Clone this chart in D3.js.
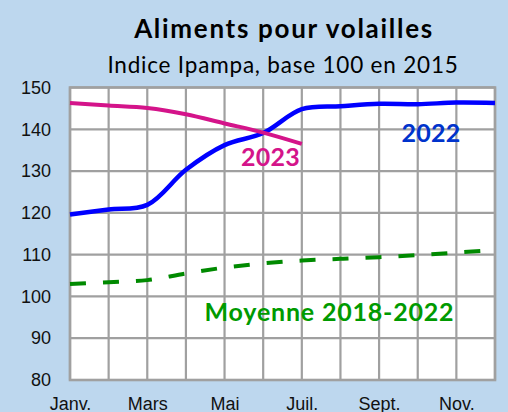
<!DOCTYPE html>
<html>
<head>
<meta charset="utf-8">
<script src="https://cdn.jsdelivr.net/npm/d3@7"></script>
<style>
  html, body { margin: 0; padding: 0; background: #BDD7EE; }
  svg { display: block; }
</style>
</head>
<body>
<div id="viz"></div>
<script>
// Data
const months = ["Janv.", "Févr.", "Mars", "Avr.", "Mai", "Juin", "Juil.", "Août", "Sept.", "Oct.", "Nov.", "Déc."]
const tickMonths = ["Janv.", "Mars", "Mai", "Juil.", "Sept.", "Nov."]
const yTicks = [80, 90, 100, 110, 120, 130, 140, 150]
const values2022 = [119.6, 120.8, 121.9, 130.3, 136.2, 139.1, 144.8, 145.5, 146.1, 146.0, 146.4, 146.3]
const values2023 = [146.3, 145.7, 145.1, 143.6, 141.4, 139.2, 136.5]
const valuesMoyenne = [103.0, 103.4, 103.9, 105.5, 106.9, 107.9, 108.6, 109.0, 109.4, 109.9, 110.5, 111.1]

const width = 508
const height = 412
const margin = { top: 87.5, right: 13, bottom: 32, left: 70 }

const svg = d3.select("#viz").append("svg")
    .attr("width", width)
    .attr("height", height)

svg.append("rect")
    .attr("width", width)
    .attr("height", height)
    .attr("fill", "#BDD7EE")

const x = d3.scalePoint()
    .domain(months)
    .range([margin.left, width - margin.right])

const y = d3.scaleLinear()
    .domain([80, 150])
    .range([height - margin.bottom, margin.top])

// plot area
svg.append("rect")
    .attr("x", margin.left)
    .attr("y", margin.top)
    .attr("width", width - margin.right - margin.left)
    .attr("height", height - margin.bottom - margin.top)
    .attr("fill", "#fff")

// grid
svg.append("g")
    .selectAll("line")
    .data(months)
    .enter().append("line")
    .attr("x1", d => x(d))
    .attr("x2", d => x(d))
    .attr("y1", margin.top)
    .attr("y2", height - margin.bottom)
    .attr("stroke", "#A0A0A0")
    .attr("stroke-width", 2.2)

svg.append("g")
    .selectAll("line")
    .data(yTicks)
    .enter().append("line")
    .attr("x1", margin.left)
    .attr("x2", width - margin.right)
    .attr("y1", d => y(d))
    .attr("y2", d => y(d))
    .attr("stroke", "#A0A0A0")
    .attr("stroke-width", 2.2)

svg.append("rect")
    .attr("x", margin.left)
    .attr("y", margin.top)
    .attr("width", width - margin.right - margin.left)
    .attr("height", height - margin.bottom - margin.top)
    .attr("fill", "none")
    .attr("stroke", "#A0A0A0")
    .attr("stroke-width", 2.6)

// axes
const yAxis = svg.append("g")
    .attr("transform", "translate(" + (margin.left - 19) + ",0)")
    .call(d3.axisLeft(y).tickValues(yTicks).tickSize(0).tickPadding(0))
yAxis.select(".domain").remove()
yAxis.selectAll("text")
    .attr("font-family", "Liberation Sans, Arial, sans-serif")
    .attr("font-size", 18)
    .attr("fill", "#111")

const xAxis = svg.append("g")
    .attr("transform", "translate(0," + (height - margin.bottom) + ")")
    .call(d3.axisBottom(x).tickValues(tickMonths).tickSize(0).tickPadding(17.5))
xAxis.select(".domain").remove()
xAxis.selectAll("text")
    .attr("font-family", "Liberation Sans, Arial, sans-serif")
    .attr("font-size", 18)
    .attr("fill", "#111")

// lines
const line = d3.line()
    .x((d, i) => x(months[i]))
    .y(d => y(d))
    .curve(d3.curveCatmullRom.alpha(0.5))

svg.append("path")
    .datum(valuesMoyenne)
    .attr("d", line)
    .attr("fill", "none")
    .attr("stroke", "#008A00")
    .attr("stroke-width", 4)
    .attr("stroke-dasharray", "16,17")

svg.append("path")
    .datum(values2022)
    .attr("d", line)
    .attr("fill", "none")
    .attr("stroke", "#0000FF")
    .attr("stroke-width", 4.5)

svg.append("path")
    .datum(values2023)
    .attr("d", line)
    .attr("fill", "none")
    .attr("stroke", "#D4148A")
    .attr("stroke-width", 4)

// titles
svg.append("text")
    .attr("x", 284)
    .attr("y", 38)
    .attr("text-anchor", "middle")
    .attr("font-family", "Lato, sans-serif")
    .attr("font-weight", "bold")
    .attr("font-size", 26)
    .attr("letter-spacing", 1.7)
    .attr("fill", "#000")
    .text("Aliments pour volailles")

svg.append("text")
    .attr("x", 283)
    .attr("y", 73)
    .attr("text-anchor", "middle")
    .attr("font-family", "Lato, sans-serif")
    .attr("font-size", 22.5)
    .attr("letter-spacing", 0.8)
    .attr("fill", "#000")
    .text("Indice Ipampa, base 100 en 2015")

// series labels
const labels = [
    { text: "2022", x: 431, y: 141.5, color: "#0033CC", ls: 0.3 },
    { text: "2023", x: 270.5, y: 166, color: "#D4148A", ls: 0.3 },
    { text: "Moyenne 2018-2022", x: 329.5, y: 321, color: "#009A00", ls: 0.8 }
]
svg.append("g")
    .selectAll("text")
    .data(labels)
    .enter().append("text")
    .attr("x", d => d.x)
    .attr("y", d => d.y)
    .attr("text-anchor", "middle")
    .attr("font-family", "Lato, sans-serif")
    .attr("font-weight", "bold")
    .attr("font-size", 25)
    .attr("letter-spacing", d => d.ls)
    .attr("fill", d => d.color)
    .text(d => d.text)
</script>
</body>
</html>
